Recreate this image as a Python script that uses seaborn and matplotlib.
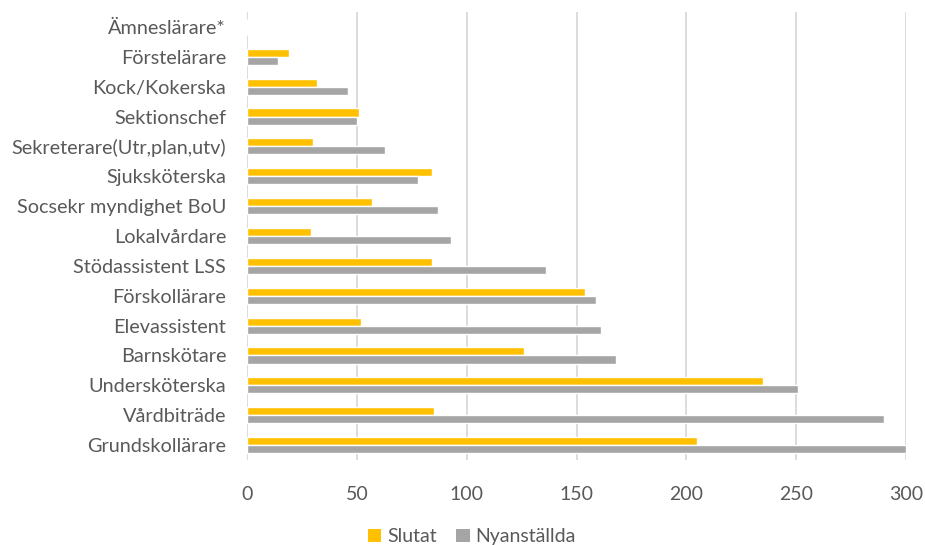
import matplotlib
matplotlib.use("Agg")
import matplotlib.pyplot as plt
from matplotlib.patches import Patch
import seaborn as sns
import pandas as pd

categories = [
    "Ämneslärare*", "Förstelärare", "Kock/Kokerska", "Sektionschef",
    "Sekreterare(Utr,plan,utv)", "Sjuksköterska", "Socsekr myndighet BoU",
    "Lokalvårdare", "Stödassistent LSS", "Förskollärare", "Elevassistent",
    "Barnskötare", "Undersköterska", "Vårdbiträde", "Grundskollärare",
]
slutat = [0, 19, 32, 51, 30, 84, 57, 29, 84, 154, 52, 126, 235, 85, 205]
nyanstallda = [0, 14, 46, 50, 63, 78, 87, 93, 136, 159, 161, 168, 251, 290, 300]
series_names = ["Slutat", "Nyanställda"]
colors = ["#FFC000", "#A5A5A5"]
xticks = [0, 50, 100, 150, 200, 250, 300]

df = pd.DataFrame({
    "Yrke": categories * 2,
    "Antal": slutat + nyanstallda,
    "Serie": [series_names[0]] * len(categories) + [series_names[1]] * len(categories),
})

sns.set_style("white")
plt.rcParams["font.family"] = ["Lato", "DejaVu Sans"]

fig = plt.figure(figsize=(9.25, 5.45), dpi=100)
ax = fig.add_axes([247 / 925, 1 - 460 / 545, (906 - 247) / 925, (460 - 12) / 545])

sns.barplot(
    data=df, y="Yrke", x="Antal", hue="Serie", order=categories,
    hue_order=series_names, palette=colors, orient="h", width=0.54,
    gap=0, saturation=1, ax=ax, legend=False,
)

ax.set_xlim(0, 300)
ax.set_ylim(len(categories) - 0.5, -0.5)
ax.set_xticks(xticks)
ax.set_xticklabels([str(t) for t in xticks])
ax.set_xlabel("")
ax.set_ylabel("")
ax.xaxis.grid(True, color="#D9D9D9", linewidth=1.3)
ax.yaxis.grid(False)
ax.set_axisbelow(True)
for s in ax.spines.values():
    s.set_visible(False)
ax.tick_params(axis="x", length=0, pad=19, labelsize=14, labelcolor="#595959")
ax.tick_params(axis="y", length=0, pad=15, labelsize=14.3, labelcolor="#595959")

handles = [Patch(facecolor=c, edgecolor="none") for c in colors]
fig.legend(
    handles, series_names, loc="center", bbox_to_anchor=(0.51, 0.015),
    ncol=2, frameon=False, fontsize=14, labelcolor="#595959",
    handlelength=0.7, handleheight=0.7, handletextpad=0.3, columnspacing=1.0,
)

fig.savefig("out.png", dpi=100)
